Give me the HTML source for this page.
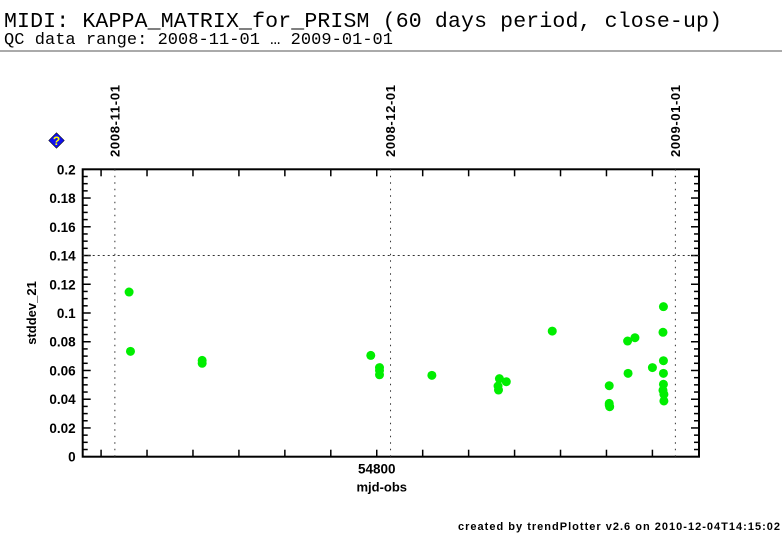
<!DOCTYPE html>
<html><head><meta charset="utf-8"><style>
body{margin:0;background:#fff;width:782px;height:542px;overflow:hidden}
svg{display:block}
</style></head><body>
<svg id="chart" width="782" height="542" xmlns="http://www.w3.org/2000/svg">
<text x="4" y="27" font-family="Liberation Mono, monospace" font-size="21.5" textLength="718">MIDI: KAPPA_MATRIX_for_PRISM (60 days period, close-up)</text>
<text x="4" y="44" font-family="Liberation Mono, monospace" font-size="17" textLength="389">QC data range: 2008-11-01 … 2009-01-01</text>
<line x1="0" y1="51" x2="782" y2="51" stroke="#555" stroke-width="1"/>
<g>
<rect x="51" y="135" width="11" height="11" fill="#1010ee" stroke="#000" stroke-width="0.5" transform="rotate(45 56.5 140.5)"/>
<text x="56.5" y="145" font-family="Liberation Sans, sans-serif" font-size="12" font-weight="bold" fill="#ffff00" text-anchor="middle">?</text>
</g>
<g id="axes"></g>
<g id="marks"></g>
<text x="458" y="530" font-family="Liberation Sans, sans-serif" font-size="11" font-weight="bold" textLength="322">created by trendPlotter v2.6 on 2010-12-04T14:15:02</text>
</svg>
<script>
const mjd = [54773.05,54773.2,54781.0,54781.0,54799.35,54800.3,54800.3,54800.3,54806.0,54813.35,54813.2,54813.25,54814.1,54819.1,54825.3,54825.3,54825.35,54825.3,54827.3,54828.1,54827.35,54830.0,54831.2,54831.15,54831.2,54831.2,54831.2,54831.15,54831.25,54831.25];
const values = [0.1146,0.0733,0.067,0.065,0.0705,0.062,0.060,0.057,0.0566,0.0543,0.0492,0.0464,0.0522,0.0874,0.0494,0.0371,0.0348,0.036,0.0805,0.0828,0.058,0.062,0.1044,0.0866,0.0668,0.058,0.0504,0.0462,0.0434,0.0388];
const yTicks = [0,0.02,0.04,0.06,0.08,0.1,0.12,0.14,0.16,0.18,0.2];
const yTickLabels = ["0","0.02","0.04","0.06","0.08","0.1","0.12","0.14","0.16","0.18","0.2"];
const xTicks = [54770,54775,54780,54785,54790,54795,54800,54805,54810,54815,54820,54825,54830,54835];
const xTickLabels = {54800:"54800"};
const dateLines = [54771.5,54801.5,54832.5];
const dateLabels = ["2008-11-01","2008-12-01","2009-01-01"];
const threshold = 0.14;

const L=82.7,R=699,T=169.3,B=456.7, xmin=54768, xmax=54835.07, ymin=0, ymax=0.2;
const X=v=>L+(v-xmin)/(xmax-xmin)*(R-L);
const Y=v=>B-(v-ymin)/(ymax-ymin)*(B-T);
const NS="http://www.w3.org/2000/svg";
const ax=document.getElementById('axes'), mk=document.getElementById('marks');
function mkEl(tag,attrs,parent){const e=document.createElementNS(NS,tag);for(const k in attrs)e.setAttribute(k,attrs[k]);parent.appendChild(e);return e;}

const frame=mkEl('rect',{x:L,y:T,width:R-L,height:B-T,fill:'none',stroke:'#000','stroke-width':2},ax);



for(let v=0;v<=0.2001;v+=0.005){
  const isMaj=Math.abs(v/0.02-Math.round(v/0.02))<1e-6;
  const len=isMaj?8:5;
  const t1=mkEl('line',{x1:L,x2:L+len,y1:Y(v),y2:Y(v),stroke:'#000','stroke-width':1.5},ax);
  
  
  const t2=mkEl('line',{x1:R,x2:R-len,y1:Y(v),y2:Y(v),stroke:'#000','stroke-width':1.5},ax);
  
  
}
yTicks.forEach((v,i)=>{
  const t=mkEl('text',{x:L-7,y:Y(v)+5,'text-anchor':'end','font-family':'Liberation Sans, sans-serif','font-size':13.5,'font-weight':'bold'},ax);
  t.textContent=yTickLabels[i];
  
  
});
xTicks.forEach(v=>{
  if(X(v)<=L+1||X(v)>=R-1)return;
  const a=mkEl('line',{x1:X(v),x2:X(v),y1:B,y2:B-7,stroke:'#000','stroke-width':1.5},ax);
  
  
  const b=mkEl('line',{x1:X(v),x2:X(v),y1:T,y2:T+7,stroke:'#000','stroke-width':1.5},ax);
  
  
  if(xTickLabels[v]){
    const t=mkEl('text',{x:X(v),y:B+17,'text-anchor':'middle','font-family':'Liberation Sans, sans-serif','font-size':13.5,'font-weight':'bold'},ax);
    t.textContent=xTickLabels[v];
    
    
  }
});
dateLines.forEach((v,i)=>{
  const l=mkEl('line',{x1:X(v),x2:X(v),y1:T,y2:B,stroke:'#333','stroke-width':1,'stroke-dasharray':'1.5,5'},ax);
  
  
  const t=mkEl('text',{x:0,y:0,'font-family':'Liberation Sans, sans-serif','font-size':13,'font-weight':'bold',textLength:72,transform:`translate(${X(v)+4.5},157) rotate(-90)`},ax);
  t.textContent=dateLabels[i];
  
  
});
const th=mkEl('line',{x1:L,x2:R,y1:Y(threshold),y2:Y(threshold),stroke:'#333','stroke-width':1,'stroke-dasharray':'2,3'},ax);



const yt=mkEl('text',{x:0,y:0,'font-family':'Liberation Sans, sans-serif','font-size':13,'font-weight':'bold','text-anchor':'middle',transform:`translate(36,${(T+B)/2}) rotate(-90)`},ax);
yt.textContent='stddev_21';


const xt=mkEl('text',{x:X(54800)+5,y:B+35,'font-family':'Liberation Sans, sans-serif','font-size':13,'font-weight':'bold','text-anchor':'middle'},ax);
xt.textContent='mjd-obs';



mjd.forEach((m,i)=>{
  const c=mkEl('circle',{cx:X(m),cy:Y(values[i]),r:4.5,fill:'#00ee00'},mk);
  
  
});
</script>
</body></html>
